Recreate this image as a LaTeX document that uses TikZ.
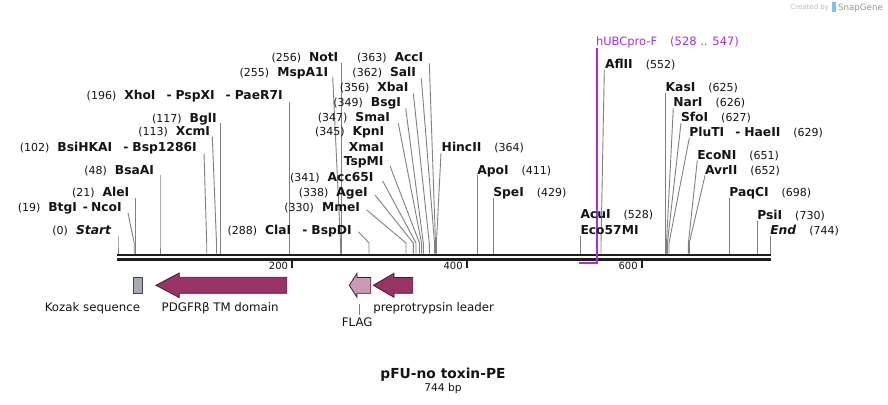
\documentclass[tikz,border=0pt]{standalone}
\usepackage{fontspec}
\setmainfont{DejaVu Sans}
\definecolor{siteg}{RGB}{128,128,128}
\definecolor{featd}{RGB}{153,51,102}
\definecolor{featl}{RGB}{204,153,180}
\definecolor{featb}{RGB}{70,25,48}
\definecolor{kozak}{RGB}{165,172,180}
\definecolor{kozakb}{RGB}{70,70,75}
\definecolor{primer}{RGB}{168,45,232}
\definecolor{txt}{RGB}{20,20,20}
\definecolor{bbc}{RGB}{30,30,30}
\definecolor{logoa}{RGB}{190,190,190}
\definecolor{logob}{RGB}{150,150,150}
\definecolor{logoc}{RGB}{120,195,240}
\newcommand\nm[1]{{\fontsize{11}{13}\selectfont #1}}
\newcommand\en[1]{{\fontsize{12.3}{14}\selectfont\bfseries #1}}
\newcommand\ei[1]{{\fontsize{12.3}{14}\selectfont\bfseries\itshape #1}}
\newcommand\dsh{\hspace{11pt}\en{-}\hspace{4pt}}
\newcommand\dshs{\hspace{6pt}\en{-}\hspace{3pt}}
\newcommand\lgap{\hspace{8pt}}
\newcommand\rgap{\hspace{13pt}}
% site line: name, top x, top y, site x
\newcommand\siteln[4]{%
  \coordinate (#1t) at (#2,#3);
  \coordinate (#1k) at (#4,243);
  \coordinate (#1b) at (#4,253.6);
  \draw[siteline] (#1t) -- (#1k) -- (#1b);}
\begin{document}
\begin{tikzpicture}[x=1pt,y=-1pt,
  lab/.style={inner sep=0pt,outer sep=0pt,text=txt},
  lleft/.style={lab,anchor=base east},
  lright/.style={lab,anchor=base west},
  siteline/.style={draw=siteg,line width=0.9pt},
  bb/.style={draw=bbc,line width=2.6pt},
  tickm/.style={draw=bbc,line width=1.8pt},
  feat/.style={draw=featb,line width=0.8pt},
  flab/.style={inner sep=0pt,outer sep=0pt,font=\fontsize{11.8}{14}\selectfont,text=txt}]
\useasboundingbox (0,0) rectangle (888,404);
\fill[white] (0,0) rectangle (888,404);

% ---- restriction site lines ----
\siteln{Start}{118}{236}{118}
\siteln{BtgI}{128}{213}{134.2}
\siteln{AleI}{135.8}{198}{135.8}
\siteln{BsaAI}{160}{175}{160}
\siteln{BsiHKAI}{204}{153.3}{206.7}
\siteln{XcmI}{212.3}{136.7}{216.5}
\siteln{BglI}{220.3}{123.3}{220.3}
\siteln{XhoI}{289.3}{101.5}{289.3}
\siteln{MspAI}{332.7}{77}{340.5}
\siteln{NotI}{341.3}{63}{341.3}
\siteln{AccI}{429.3}{63.3}{435.5}
\siteln{SalI}{421.3}{78.3}{434.5}
\siteln{XbaI}{413.3}{93.3}{429.3}
\siteln{BsgI}{405.7}{108.3}{423.3}
\siteln{SmaI}{398.3}{123.3}{421.5}
\siteln{KpnI}{390}{166}{419.5}
\siteln{AccSF}{382.7}{181}{416}
\siteln{AgeI}{375}{195}{413.3}
\siteln{MmeI}{366.7}{210}{406}
\siteln{ClaI}{358.3}{231.7}{369}
\siteln{HincII}{441}{153}{436.4}
\siteln{ApoI}{477.3}{175}{477.3}
\siteln{SpeI}{493.3}{198}{493.3}
\siteln{AcuI}{580.5}{236}{580.5}
\siteln{AflII}{604.3}{70}{601}
\siteln{KasI}{665.7}{93}{665.7}
\siteln{NarI}{673.3}{108}{666.5}
\siteln{SfoI}{681}{123}{667.4}
\siteln{PluTI}{689.3}{138}{669}
\siteln{EcoNI}{697.3}{160.5}{688.4}
\siteln{AvrII}{705}{175.5}{689.3}
\siteln{PaqCI}{729.3}{198}{729.3}
\siteln{PsiI}{757.3}{221}{757.3}
\siteln{End}{770.3}{236}{770.3}

% ---- backbone ----
\coordinate (bbL1) at (117,255);
\coordinate (bbR1) at (770.5,255);
\coordinate (bbL2) at (117,259.6);
\coordinate (bbR2) at (770.5,259.6);
\draw[bb] (bbL1) -- (bbR1);
\draw[bb] (bbL2) -- (bbR2);

% ticks
\foreach \tx/\tl in {292/200,466.7/400,641.7/600}{
  \draw[tickm] (\tx,260.5) -- (\tx,267.5);
  \node[lab,anchor=base east,font=\fontsize{10}{12}\selectfont] (tick\tl) at (\tx-4,269.5) {\tl};
}

% ---- primer ----
\coordinate (prTop) at (596.7,48.3);
\coordinate (prCorner) at (596.7,263.3);
\coordinate (prEnd) at (579.3,263.3);
\draw[draw=primer,line width=1.7pt] (prTop) -- (prCorner) -- (prEnd);
\node[lright,text=primer,font=\fontsize{11.5}{13}\selectfont] (hUBC) at (596,45.9)
  {hUBCpro-F\rgap(528 .. 547)};

% ---- left labels ----
\node[lleft] (lStart) at (111,234.5) {\nm{(0)}\lgap\ei{Start}};
\node[lleft] (lBtgI) at (121.7,211.2) {\nm{(19)}\lgap\en{BtgI}\dshs\en{NcoI}};
\node[lleft] (lAleI) at (129.3,196.8) {\nm{(21)}\lgap\en{AleI}};
\node[lleft] (lBsaAI) at (154,174.5) {\nm{(48)}\lgap\en{BsaAI}};
\node[lleft] (lBsiHKAI) at (196.7,151.8) {\nm{(102)}\lgap\en{BsiHKAI}\dsh\en{Bsp1286I}};
\node[lleft] (lXcmI) at (210,135.2) {\nm{(113)}\lgap\en{XcmI}};
\node[lleft] (lBglI) at (216.7,122.2) {\nm{(117)}\lgap\en{BglI}};
\node[lleft] (lXhoI) at (282.7,99) {\nm{(196)}\lgap\en{XhoI}\dsh\en{PspXI}\dsh\en{PaeR7I}};
\node[lleft] (lMspAI) at (328.3,76.8) {\nm{(255)}\lgap\en{MspA1I}};
\node[lleft] (lNotI) at (338.3,61.2) {\nm{(256)}\lgap\en{NotI}};
\node[lleft] (lAccI) at (423.3,61.2) {\nm{(363)}\lgap\en{AccI}};
\node[lleft] (lSalI) at (416,76.8) {\nm{(362)}\lgap\en{SalI}};
\node[lleft] (lXbaI) at (408.5,91.2) {\nm{(356)}\lgap\en{XbaI}};
\node[lleft] (lBsgI) at (401,106.2) {\nm{(349)}\lgap\en{BsgI}};
\node[lleft] (lSmaI) at (390,121.2) {\nm{(347)}\lgap\en{SmaI}};
\node[lleft] (lKpnI) at (384.3,135.5) {\nm{(345)}\lgap\en{KpnI}};
\node[lleft] (lXmaI) at (384,151.2) {\en{XmaI}};
\node[lleft] (lTspMI) at (383.5,165.5) {\en{TspMI}};
\node[lleft] (lAccSF) at (373.5,181.2) {\nm{(341)}\lgap\en{Acc65I}};
\node[lleft] (lAgeI) at (367.7,196.8) {\nm{(338)}\lgap\en{AgeI}};
\node[lleft] (lMmeI) at (360,211.8) {\nm{(330)}\lgap\en{MmeI}};
\node[lleft] (lClaI) at (351.7,234.5) {\nm{(288)}\lgap\en{ClaI}\dsh\en{BspDI}};

% ---- right labels ----
\node[lright] (lHincII) at (441.7,151.8) {\en{HincII}\rgap\nm{(364)}};
\node[lright] (lApoI) at (477.3,174.5) {\en{ApoI}\rgap\nm{(411)}};
\node[lright] (lSpeI) at (493.3,196.8) {\en{SpeI}\rgap\nm{(429)}};
\node[lright] (lAcuI) at (580.5,218.8) {\en{AcuI}\rgap\nm{(528)}};
\node[lright] (lEcoMI) at (580.5,234.5) {\en{Eco57MI}};
\node[lright] (lAflII) at (605,68.8) {\en{AflII}\rgap\nm{(552)}};
\node[lright] (lKasI) at (665.7,91.8) {\en{KasI}\rgap\nm{(625)}};
\node[lright] (lNarI) at (673.3,106.8) {\en{NarI}\rgap\nm{(626)}};
\node[lright] (lSfoI) at (681,121.8) {\en{SfoI}\rgap\nm{(627)}};
\node[lright] (lPluTI) at (689.3,136.5) {\en{PluTI}\dsh\en{HaeII}\rgap\nm{(629)}};
\node[lright] (lEcoNI) at (697.3,159.5) {\en{EcoNI}\rgap\nm{(651)}};
\node[lright] (lAvrII) at (705,174.5) {\en{AvrII}\rgap\nm{(652)}};
\node[lright] (lPaqCI) at (729.3,196.8) {\en{PaqCI}\rgap\nm{(698)}};
\node[lright] (lPsiI) at (757.3,219.5) {\en{PsiI}\rgap\nm{(730)}};
\node[lright] (lEnd) at (770.3,234.8) {\ei{End}\rgap\nm{(744)}};

% ---- features ----
\draw[draw=kozakb,line width=0.8pt,fill=kozak] (133.3,277.3) rectangle (142.7,293.3);
\draw[feat,fill=featd] (156,285.3) -- (179.3,273) -- (179.3,277.3) -- (286.7,277.3)
  -- (286.7,293.3) -- (179.3,293.3) -- (179.3,297.6) -- cycle;
\draw[feat,fill=featl] (349.3,285.3) -- (357,273.3) -- (357,277.5) -- (370.7,277.5)
  -- (370.7,293.3) -- (357,293.3) -- (357,297.3) -- cycle;
\draw[feat,fill=featd] (373.3,285.3) -- (394,273.3) -- (394,277.5) -- (412.7,277.5)
  -- (412.7,293.3) -- (394,293.3) -- (394,297.3) -- cycle;

\node[flab,anchor=base east] (fKozak) at (140,311) {Kozak sequence};
\node[flab,anchor=base west] (fPDGF) at (161.7,311) {PDGFRβ TM domain};
\node[flab,anchor=base west] (fPrep) at (373.3,311) {preprotrypsin leader};
\coordinate (flagT) at (359.3,304.3);
\coordinate (flagB) at (359.3,315);
\draw[siteline] (flagT) -- (flagB);
\node[flab,anchor=base] (fFLAG) at (357.2,326.5) {FLAG};

% ---- title ----
\node[lab,anchor=base,font=\fontsize{13.8}{16}\selectfont\bfseries] (title) at (443,378) {pFU-no toxin-PE};
\node[lab,anchor=base,font=\fontsize{10.7}{13}\selectfont] (size) at (443,391.7) {744 bp};

% ---- logo ----
\node[lab,anchor=base east,text=logoa,font=\fontsize{7}{8}\selectfont] (created) at (829,9.5) {Created by};
\fill[logoc] (831.5,2) rectangle (835.5,12.5);
\node[lab,anchor=base west,text=logob,font=\fontsize{8.7}{10}\selectfont] (snap) at (838,10.3) {SnapGene};
\end{tikzpicture}
\end{document}
